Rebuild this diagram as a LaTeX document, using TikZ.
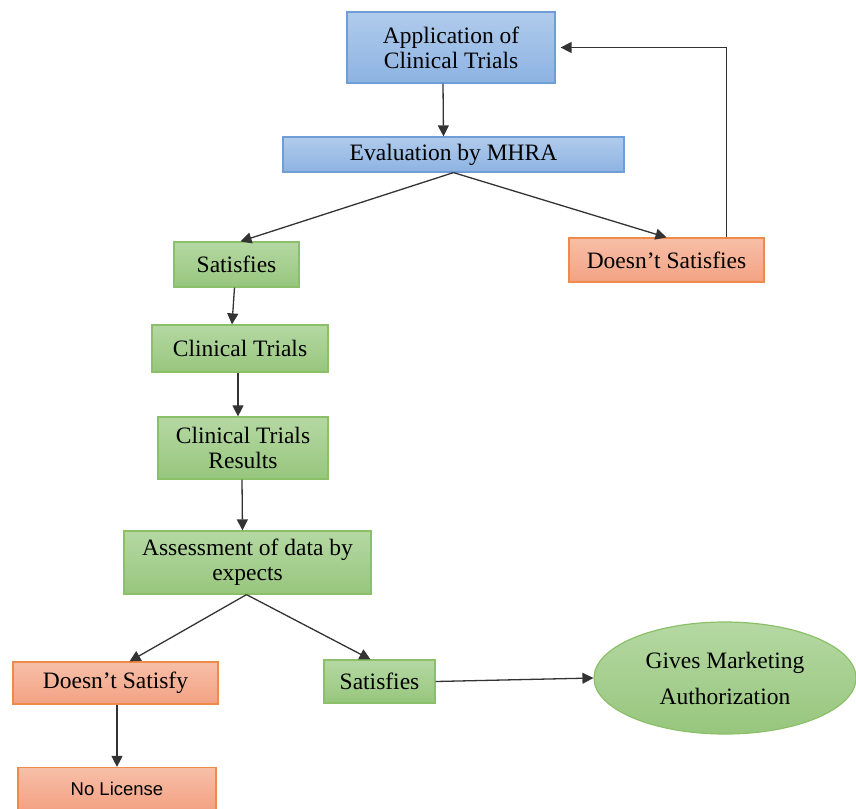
\documentclass[tikz,border=0pt]{standalone}
\usepackage{fontspec}
\setmainfont{Liberation Serif}
\newfontfamily\labelsans{Liberation Sans}
\usetikzlibrary{arrows.meta,shapes.geometric}

\definecolor{bluetop}{HTML}{B0CBEC}
\definecolor{bluebot}{HTML}{8DB3E2}
\definecolor{blueline}{HTML}{6E9DD8}
\definecolor{greentop}{HTML}{B5D8A3}
\definecolor{greenbot}{HTML}{97C67D}
\definecolor{greenline}{HTML}{8CC068}
\definecolor{orangetop}{HTML}{F7BFA8}
\definecolor{orangebot}{HTML}{F3A283}
\definecolor{orangeline}{HTML}{F08A48}

\tikzset{
	step box/.style = {rectangle, line width=1.2pt, inner sep=2pt, align=center,
		font=\fontsize{23.5}{25}\selectfont},
	bluebox/.style = {step box, draw=blueline, top color=bluetop, bottom color=bluebot},
	greenbox/.style = {step box, draw=greenline, top color=greentop, bottom color=greenbot},
	orangebox/.style = {step box, draw=orangeline, top color=orangetop, bottom color=orangebot},
	arr/.style = {line width=1.3pt, draw=black!80, -{Triangle[length=11pt,width=11pt]}}
}

\begin{document}
\begin{tikzpicture}[x=1pt,y=-1pt]
	\useasboundingbox (0,0) rectangle (856,808);
	\node (app)   at (451, 47.5)	[bluebox, minimum width=208, minimum height=71]	{Application of\\Clinical Trials};
	\node (eval)  at (453.5, 154.5)	[bluebox, minimum width=341, minimum height=35]	{Evaluation by MHRA};
	\node (sat1)  at (236.5, 264.5)	[greenbox, minimum width=125, minimum height=45]	{Satisfies};
	\node (nsat1) at (666.5, 260)	[orangebox, minimum width=195, minimum height=44]	{Doesn’t Satisfies};
	\node (ct)    at (240, 348.5)	[greenbox, minimum width=176, minimum height=47]	{Clinical Trials};
	\node (res)   at (243, 448)	[greenbox, minimum width=170, minimum height=62]	{Clinical Trials\\Results};
	\node (ass)   at (247.5, 562.5)	[greenbox, minimum width=247, minimum height=63]	{Assessment of data by\\expects};
	\node (nsat2) at (115.5, 683)	[orangebox, minimum width=205, minimum height=42]	{Doesn’t Satisfy};
	\node (sat2)  at (379.5, 681.5)	[greenbox, minimum width=111, minimum height=43]	{Satisfies};
	\node (grant) at (725, 678)	[ellipse, line width=1.2pt, draw=greenline, top color=greentop, bottom color=greenbot,
		minimum width=262, minimum height=112, align=center, font=\fontsize{23.5}{36}\selectfont]	{Gives Marketing\\Authorization};
	\node (nolic) at (117, 788.5)	[orangebox, minimum width=198, minimum height=42, font=\labelsans\fontsize{18.5}{20}\selectfont]	{No License};

	\draw[arr] ([xshift=-8]app.south) -- ([xshift=-10]eval.north);
	\draw[arr] (eval.south) -- ([xshift=4]sat1.north);
	\draw[arr] (eval.south) -- (nsat1.north);
	\draw[arr, shorten >=5pt] ([xshift=60]nsat1.north) |- (app.east);
	\draw[arr] ([xshift=-2]sat1.south) -- ([xshift=-8]ct.north);
	\draw[arr] ([xshift=-2]ct.south) -- ([xshift=-5]res.north);
	\draw[arr] ([xshift=-1]res.south) -- ([xshift=-5]ass.north);
	\draw[arr] ([xshift=-1]ass.south) -- ([xshift=14]nsat2.north);
	\draw[arr] ([xshift=-1]ass.south) -- ([xshift=-9]sat2.north);
	\draw[arr] (sat2.east) -- (grant.west);
	\draw[arr] ([xshift=1.5]nsat2.south) -- (nolic.north);
\end{tikzpicture}
\end{document}
